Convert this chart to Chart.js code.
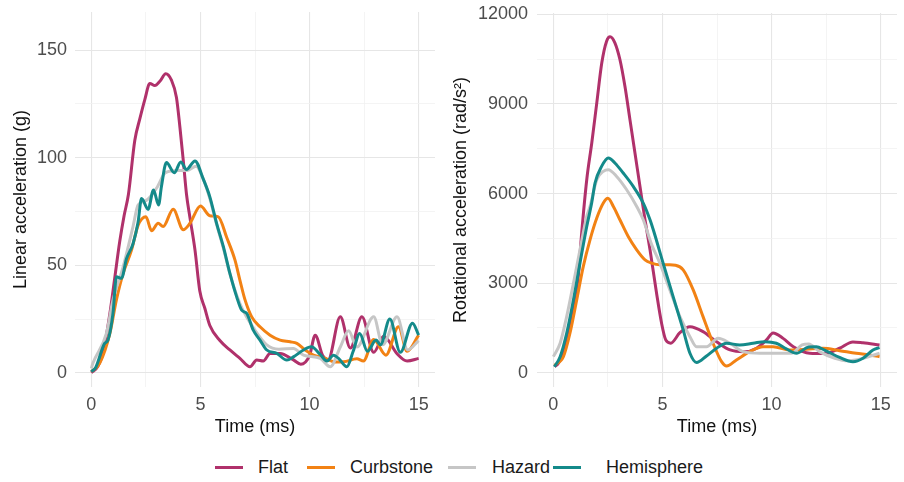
<!DOCTYPE html>
<html>
<head>
<meta charset="utf-8">
<script src="https://cdn.jsdelivr.net/npm/chart.js@4.4.0/dist/chart.umd.min.js"></script>
<style>
  body { margin: 0; background: #ffffff; font-family: "Liberation Sans", Arial, sans-serif; }
  #graficasImpacto { position: relative; width: 904px; height: 482px; overflow: hidden; }
  #graficasImpacto canvas { position: absolute; top: 0; }
  .leyenda { position: absolute; top: 456px; left: 0; width: 904px; height: 22px; }
  .item-ley { position: absolute; top: 0; font-size: 18px; line-height: 22px; color: #1a1a1a; }
  .linea-ley { position: absolute; top: 9.5px; height: 3.5px; width: 28px; }
</style>
</head>
<body>
<div id="graficasImpacto"></div>
<script>

/* DATOS - aceleracion lineal (g) */
const tFlatLin = [0, 0.3, 0.55, 0.84, 1.07, 1.3, 1.5, 1.7, 1.99, 2.22, 2.45, 2.68, 2.91, 3.14, 3.41, 3.67, 3.9, 4.06, 4.21, 4.36, 4.52, 4.75, 4.97, 5.2, 5.43, 5.89, 6.35, 6.81, 7.27, 7.58, 7.88, 8.19, 8.65, 9.26, 9.6, 10.0, 10.26, 10.6, 10.85, 11.41, 11.87, 12.4, 12.94, 13.4, 14.0, 14.47, 15];
const vFlatLin = [0, 3, 10, 27, 44, 61, 73, 83, 108, 118, 127, 134.5, 133.5, 135.5, 139, 136, 128, 114, 99, 83, 72, 57, 38, 30, 22, 15, 10.6, 6.7, 2.8, 6, 5.5, 9, 9, 6, 4, 8, 17.5, 8, 6, 26, 11.5, 26, 9.5, 17, 9, 5.5, 6.7];

const tCurbLin = [0, 0.38, 0.84, 1.15, 1.45, 1.84, 2.14, 2.5, 2.76, 3.06, 3.29, 3.75, 4.21, 4.52, 5.0, 5.43, 5.82, 6.2, 6.58, 6.81, 7.04, 7.35, 7.73, 8.19, 8.65, 9.11, 9.42, 9.8, 10.18, 10.64, 11.2, 11.56, 12.17, 12.47, 12.94, 13.5, 14.08, 14.47, 15];
const vCurbLin = [0.5, 4.4, 18, 34, 46, 57, 68.5, 72.5, 66, 69.5, 68, 76, 66.5, 69.5, 77.5, 73, 72.5, 63, 52.5, 43, 34, 26, 21.4, 17.5, 15.2, 14.4, 13.7, 10.6, 8.2, 7, 5, 5.1, 6.5, 5.5, 15.5, 8.2, 21.4, 10, 17.5];

const tHazLin = [0, 0.07, 0.69, 0.99, 1.45, 1.91, 2.14, 2.5, 3.0, 3.4, 4.0, 4.4, 4.8, 5.13, 5.43, 5.74, 6.05, 6.35, 6.66, 6.95, 7.42, 8.04, 8.6, 9.26, 9.72, 10.49, 10.95, 11.41, 11.79, 12.17, 12.94, 13.35, 14.01, 14.5, 15];
const vHazLin = [2, 4.4, 18.3, 33.8, 49, 68, 78, 80, 86, 93, 94, 94, 96, 90, 81, 69, 58, 46, 36, 29, 21, 13, 11, 11.3, 8.2, 6.7, 2.8, 12, 19.5, 12, 26, 13, 26, 10.6, 15];

const tHemLin = [0, 0.2, 0.61, 0.76, 0.99, 1.15, 1.38, 1.61, 1.91, 2.14, 2.3, 2.6, 2.85, 3.08, 3.21, 3.44, 3.8, 4.1, 4.36, 4.75, 5.13, 5.43, 5.74, 6.05, 6.35, 6.66, 6.89, 7.12, 7.42, 7.73, 8.04, 8.5, 8.96, 9.26, 9.72, 10.08, 10.49, 10.8, 11.1, 11.35, 11.71, 12.0, 12.3, 12.65, 13.05, 13.25, 13.68, 14.16, 14.72, 15];
const vHemLin = [0.5, 2.5, 13.7, 15.2, 27.6, 44.6, 43.9, 53, 60, 70, 81, 76, 85, 78, 86.5, 97.7, 93, 98, 94.5, 98.5, 90, 81.8, 69.5, 58.6, 46.2, 35.3, 29.1, 27.6, 19.8, 15.2, 10.6, 9, 5.9, 7.4, 10.6, 12.1, 8.5, 5.5, 8.2, 6.5, 2.8, 10, 18.3, 10, 15.2, 13, 25, 9.5, 23, 17.5];

/* DATOS - aceleracion rotacional (rad/s2) */
const tFlatRot = [0.05, 0.23, 0.54, 0.92, 1.14, 1.3, 1.53, 1.76, 1.99, 2.22, 2.44, 2.6, 2.82, 3.05, 3.28, 3.51, 3.74, 3.97, 4.2, 4.43, 4.73, 4.96, 5.15, 5.38, 5.8, 6.26, 6.86, 7.48, 8.1, 8.75, 9.31, 9.77, 10.07, 10.53, 11.0, 11.75, 12.45, 13.12, 13.73, 14.19, 14.95];
const vFlatRot = [200, 315, 872, 2104, 3221, 4700, 6465, 7696, 9038, 10380, 11105, 11253, 11051, 10491, 9595, 8478, 7360, 6240, 5123, 4117, 2664, 1657, 1100, 990, 1340, 1543, 1376, 1040, 762, 700, 819, 1097, 1330, 1150, 870, 650, 640, 819, 1030, 1000, 929];

const tCurbRot = [0.05, 0.46, 0.76, 1.07, 1.37, 1.68, 1.99, 2.29, 2.5, 2.75, 3.05, 3.43, 3.82, 4.2, 4.5, 4.88, 5.34, 5.6, 5.95, 6.41, 6.86, 7.32, 7.71, 7.94, 8.39, 9.0, 9.61, 10.07, 10.83, 11.6, 12.36, 13.12, 13.88, 14.49, 14.95];
const vCurbRot = [250, 537, 1322, 2440, 3556, 4452, 5180, 5683, 5840, 5570, 5123, 4563, 4117, 3781, 3670, 3613, 3613, 3600, 3446, 2775, 1879, 986, 369, 225, 426, 705, 872, 872, 762, 785, 819, 738, 651, 594, 537];

const tHazRot = [0.0, 0.31, 0.61, 0.92, 1.22, 1.53, 1.68, 1.99, 2.29, 2.52, 2.9, 3.36, 3.82, 4.12, 4.5, 4.88, 5.34, 5.8, 6.26, 6.56, 7.02, 7.55, 8.09, 8.7, 9.46, 10.07, 10.9, 11.4, 11.7, 12.2, 12.9, 13.5, 14.19, 14.95];
const vHazRot = [537, 986, 1879, 2999, 4117, 5234, 5570, 6465, 6744, 6800, 6576, 6130, 5570, 5123, 4300, 3670, 2775, 1879, 1208, 872, 872, 1153, 986, 705, 651, 651, 651, 929, 960, 705, 483, 400, 483, 651];

const tHemRot = [0.05, 0.31, 0.61, 0.92, 1.22, 1.53, 1.76, 1.91, 2.21, 2.52, 2.82, 3.2, 3.66, 4.12, 4.43, 4.58, 5.03, 5.49, 5.95, 6.26, 6.56, 7.02, 7.48, 7.94, 8.54, 9.15, 9.7, 10.22, 10.68, 11.14, 11.7, 12.05, 12.45, 13.12, 13.73, 14.19, 14.65, 14.95];
const vHemRot = [200, 537, 1322, 2440, 3670, 4898, 5700, 6354, 6912, 7193, 7025, 6690, 6241, 5683, 5123, 4788, 3670, 2550, 1433, 651, 340, 560, 819, 986, 929, 986, 1040, 986, 800, 651, 860, 872, 750, 510, 369, 483, 762, 840];

const superficies = ['Flat', 'Curbstone', 'Hazard', 'Hemisphere'];
const coloresSup = ['#b0316b', '#f28214', '#c6c6c6', '#148a8a'];

const ticksTiempo = [0, 5, 10, 15];
const ticksLineal = [0, 50, 100, 150];
const ticksRotacional = [0, 3000, 6000, 9000, 12000];


Chart.defaults.font.family = "'Liberation Sans', Arial, sans-serif";
Chart.defaults.font.size = 18;

let llamarGraficas = document.querySelector('#graficasImpacto');

function armarPuntos(t, v) {
  return t.map((x, i) => ({ x: x, y: v[i] }));
}

/* mayores + menores (a la mitad) como en ggplot */
function conMenores(mayores) {
  let lista = [];
  mayores.forEach((m, i) => {
    lista.push(m);
    if (i < mayores.length - 1) lista.push((m + mayores[i + 1]) / 2);
  });
  return lista;
}

function ejeConfig(mayores, min, max, titulo, esX, tamEje, padTicks) {
  const todos = conMenores(mayores);
  return {
    type: 'linear',
    min: min,
    max: max,
    afterBuildTicks: (eje) => { eje.ticks = todos.map(v => ({ value: v })); },
    afterFit: (eje) => {
      if (esX) eje.height = tamEje; else eje.width = tamEje;
      // sin margen extra por las etiquetas de los extremos
      eje.paddingTop = 0;
      eje.paddingBottom = 0;
      eje.paddingLeft = 0;
      eje.paddingRight = 0;
    },
    ticks: {
      autoSkip: false,
      maxRotation: 0,
      color: '#4d4d4d',
      padding: padTicks,
      callback: (value) => mayores.includes(value) ? String(value) : ''
    },
    grid: {
      drawTicks: false,
      color: (ctx) => (ctx.tick && mayores.includes(ctx.tick.value)) ? '#e6e6e6' : '#f1f1f1',
      lineWidth: (ctx) => (ctx.tick && mayores.includes(ctx.tick.value)) ? 1.1 : 0.8
    },
    border: { display: false },
    title: {
      display: true,
      text: titulo,
      color: '#111111',
      padding: esX ? { top: 0, bottom: 7 } : { top: tamEje === 75 ? 10 : 5, bottom: 0 }
    }
  };
}

function crearGrafica(izq, ancho, series, ejeY, padTop, padDer) {
  let canvas = document.createElement('canvas');
  canvas.width = ancho;
  canvas.height = 445;
  canvas.style.left = izq + 'px';
  llamarGraficas.appendChild(canvas);

  const datasets = series.map((s, i) => ({
    label: superficies[i],
    data: armarPuntos(s[0], s[1]),
    borderColor: coloresSup[i],
    borderWidth: 3,
    pointRadius: 0,
    fill: false,
    cubicInterpolationMode: 'monotone',
    order: series.length - i
  }));

  new Chart(canvas.getContext('2d'), {
    type: 'line',
    data: { datasets: datasets },
    options: {
      responsive: false,
      animation: false,
      devicePixelRatio: 1,
      layout: { padding: { left: 0, right: padDer, top: padTop, bottom: 0 } },
      plugins: { legend: { display: false }, tooltip: { enabled: false } },
      scales: {
        x: ejeConfig(ticksTiempo, -0.75, 15.75, 'Time (ms)', true, 58, 7),
        y: ejeY
      }
    }
  });
}

/* GRAFICA IZQUIERDA */
crearGrafica(0, 445, [
  [tFlatLin, vFlatLin], [tCurbLin, vCurbLin], [tHazLin, vHazLin], [tHemLin, vHemLin]
], ejeConfig(ticksLineal, -6.6, 167.7, 'Linear acceleration (g)', false, 75, 8), 12, 10);

/* GRAFICA DERECHA */
crearGrafica(445, 459, [
  [tFlatRot, vFlatRot], [tCurbRot, vCurbRot], [tHazRot, vHazRot], [tHemRot, vHemRot]
], ejeConfig(ticksRotacional, -479, 12050, 'Rotational acceleration (rad/s²)', false, 92, 9), 13, 7);

/* LEYENDA */
let leyenda = document.createElement('div');
leyenda.className = 'leyenda';
const posLinea = [215, 307, 448, 553];
const posTexto = [258, 350, 492, 606];
superficies.forEach((nombre, i) => {
  let linea = document.createElement('span');
  linea.className = 'linea-ley';
  linea.style.left = posLinea[i] + 'px';
  linea.style.background = coloresSup[i];
  leyenda.appendChild(linea);

  let texto = document.createElement('span');
  texto.className = 'item-ley';
  texto.style.left = posTexto[i] + 'px';
  texto.textContent = nombre;
  leyenda.appendChild(texto);
});
llamarGraficas.appendChild(leyenda);

</script>
</body>
</html>
